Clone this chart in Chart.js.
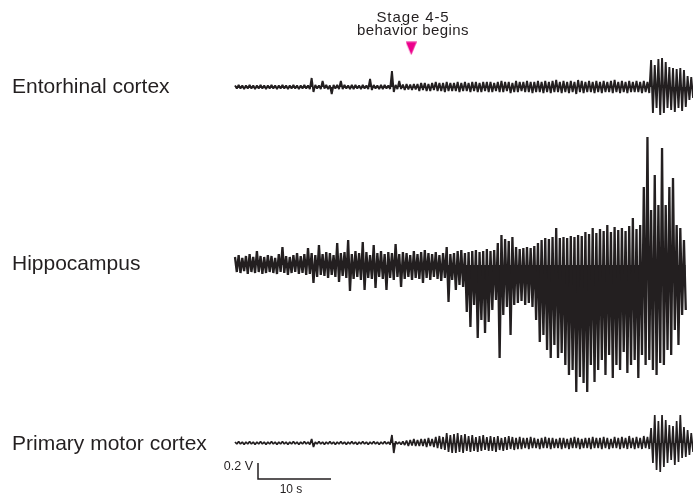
<!DOCTYPE html>
<html>
<head>
<meta charset="utf-8">
<script src="https://cdn.jsdelivr.net/npm/chart.js@4/dist/chart.umd.min.js"></script>
<style>
  html, body { margin: 0; padding: 0; background: #ffffff; }
  #wrap { position: relative; width: 693px; height: 501px; overflow: hidden;
          font-family: "Liberation Sans", Arial, Helvetica, sans-serif; color: #231f20; }
  #c { position: absolute; left: 0; top: 0; width: 693px; height: 501px; }
  .lbl { position: absolute; white-space: nowrap; line-height: 1; }
</style>
</head>
<body>
<div id="wrap">
  <canvas id="c" width="693" height="501"></canvas>
  <div class="lbl" style="left:12px; top:75px; font-size:21px;">Entorhinal cortex</div>
  <div class="lbl" style="left:12px; top:252px; font-size:21px;">Hippocampus</div>
  <div class="lbl" style="left:12px; top:432px; font-size:21px;">Primary motor cortex</div>
  <div class="lbl" style="left:413px; top:9px; font-size:15px; letter-spacing:0.9px; transform:translateX(-50%);">Stage 4-5</div>
  <div class="lbl" style="left:413px; top:21.6px; font-size:15px; letter-spacing:0.4px; transform:translateX(-50%);">behavior begins</div>
  <div class="lbl" style="right:440px; top:459.5px; font-size:12.5px;">0.2 V</div>
  <div class="lbl" style="left:291px; top:482.5px; font-size:12px; transform:translateX(-50%);">10 s</div>
</div>
<script>
// ---------------- DATA ----------------
// Sampling: one positive peak and one negative peak per 0.5 s window
// (peak+ at t, peak- at t + 0.25 s). Values are digitizer counts (1 count = 0.0125 V).
const STEP_S = 0.5;
const V_PER_COUNT = 0.0125;

// Entorhinal cortex
const ecUp = [
  1.5,2,1.5,1.5,2,1.5,1.5,2,1.5,1.5,
  2,1.5,1.5,2,1.5,1.5,2,1.5,1.5,2,
  1.5,9,2,1.5,6,2,1.5,2,2,6,
  2,1.5,2,2,1.5,2,1.5,8,2,1.5,
  2,2,1.5,16,2,6,2.5,3,2.5,3,
  3,4,4,3,4,5,4,4,5,4,
  4,5,4,5,4,5,5,4,5,5,
  5,4,5,6,5,5,4,6,5,5,
  6,5,5,6,5,6,5,6,7,5,
  6,5,6,5,7,6,5,6,5,6,
  5,6,5,6,7,5,6,5,6,5,
  6,5,6,5,27,22,28,29,25,20,
  19,18,19,17,11,10
];
const ecDown = [
  1.5,1.5,2,1.5,1.5,2,1.5,1.5,2,1.5,
  1.5,2,1.5,1.5,2,1.5,1.5,2,1.5,1.5,
  2,5,1.5,2,1.5,2,7,1.5,2,2,
  1.5,2,2,1.5,2,1.5,2,3,1.5,2,
  2,1.5,2,5,2,2,3,2.5,3,2.5,
  4,3,4,4,3,4,4,5,4,4,
  4,5,4,4,5,4,5,5,4,5,
  5,4,5,5,4,6,5,5,4,5,
  5,6,5,5,6,5,6,5,5,6,
  5,6,5,7,5,6,5,5,6,5,
  6,5,5,6,5,6,5,6,5,5,
  5,6,5,6,26,21,28,26,21,23,
  25,21,24,20,13,11
];

// Hippocampus
const hpUp = [
  8,10,7,9,11,8,14,9,8,10,
  9,7,11,18,9,8,10,12,9,11,
  17,12,10,20,11,13,12,10,22,12,
  13,25,11,14,12,23,13,10,20,12,
  14,11,13,12,21,11,13,12,10,14,
  11,13,15,12,11,13,10,12,18,11,
  12,14,15,12,13,14,15,13,14,16,
  14,15,22,30,26,24,28,18,16,17,
  18,17,19,22,25,27,26,28,37,27,
  28,27,29,28,30,29,33,31,37,32,
  36,34,40,33,38,35,37,34,39,47,
  36,40,78,128,55,90,60,117,60,78,
  87,40,37,25
];
const hpDown = [
  7,8,6,9,7,8,7,9,8,7,
  8,9,7,8,10,8,7,9,8,10,
  9,18,12,10,11,13,10,12,17,11,
  13,26,14,12,15,25,13,14,23,12,
  14,25,13,15,12,22,14,12,15,13,
  14,18,13,15,12,14,16,13,37,15,
  25,20,22,47,62,40,73,55,68,57,
  45,35,93,50,42,70,40,38,36,40,
  38,42,55,77,70,85,93,80,93,88,
  100,110,105,127,112,118,127,100,117,105,
  95,110,90,113,100,105,87,108,100,95,
  113,90,100,95,105,110,98,100,85,90,
  65,80,50,45
];

// Primary motor cortex
const pmUp = [
  1,1.5,1,1,1.5,1,1,1.5,1,1,
  1.5,1,1,1.5,1,1,1.5,1,1,1.5,
  1,4,1,1.5,1,1,1.5,1,1,1.5,
  1,1,1.5,1,1,1.5,1,1,1.5,1,
  1,1.5,1,8,1.5,1,1.5,2.5,3,4,
  3,4,4,5,4,6,7,6,10,8,
  9,10,8,9,7,8,6,7,8,6,
  7,6,7,5,6,7,6,5,6,5,
  5,6,5,4,5,6,5,5,4,5,
  5,4,5,6,5,4,5,5,6,5,
  5,6,5,4,6,5,6,5,7,5,
  6,5,7,6,15,28,22,28,23,18,
  17,22,28,16,13,10
];
const pmDown = [
  1,1,1.5,1,1,1.5,1,1,1.5,1,
  1,1.5,1,1,1.5,1,1,1.5,1,1,
  1.5,4,1,1,1.5,1,1,1.5,1,1,
  1.5,1,1,1.5,1,1,1.5,1,1,1.5,
  1,1,1.5,10,1,1.5,2,3,2.5,3,
  3,3,4,3,4,5,6,7,9,10,
  10,9,10,8,9,8,9,8,7,8,
  8,9,7,8,7,6,7,6,6,5,
  6,5,5,6,5,5,6,5,5,6,
  5,6,5,5,6,5,5,6,5,5,
  6,5,6,5,5,6,5,6,5,6,
  5,6,5,6,20,27,29,24,20,17,
  22,19,15,14,12,9
];

// Annotation + scale bar values
const behaviorOnsetS = 24.14;      // "Stage 4-5 behavior begins" (s)
const scaleBarV = 0.2;             // vertical scale bar (V)
const scaleBarS = 10;              // horizontal scale bar (s)

// ---------------- LAYOUT (view window, not data) ----------------
const PX_PER_S = 7.3, PX_PER_V = 80, W = 693, H = 501, T0_PX = 235;
const X_MIN = -T0_PX / PX_PER_S, X_MAX = X_MIN + W / PX_PER_S;
const Y_MAX = 0, Y_MIN = -H / PX_PER_V;
const EC_BASE = -87 / PX_PER_V, HP_BASE = -265 / PX_PER_V, PM_BASE = -443 / PX_PER_V;
const BAR_T = (258 - T0_PX) / PX_PER_S, BAR_Y = -479 / PX_PER_V;
const MARK_Y = -48.3 / PX_PER_V;
const INK = '#231f20';

function trace(up, down, base) {
  const pts = [];
  for (let i = 0; i < up.length; i++) {
    pts.push({ x: i * STEP_S, y: base + up[i] * V_PER_COUNT });
    pts.push({ x: i * STEP_S + STEP_S / 2, y: base - down[i] * V_PER_COUNT });
  }
  return pts;
}

function traceDataset(label, up, down, base, lw) {
  return {
    label, data: trace(up, down, base),
    borderColor: INK, backgroundColor: INK, borderWidth: lw,
    borderJoinStyle: 'bevel',
    fill: { value: base }, pointRadius: 0, tension: 0
  };
}

// pink down-pointing marker
const tri = document.createElement('canvas');
tri.width = 11; tri.height = 14;
(function () {
  const g = tri.getContext('2d');
  g.fillStyle = '#ec008c';
  g.beginPath(); g.moveTo(0, 0.5); g.lineTo(11, 0.5); g.lineTo(5.5, 13.8); g.closePath(); g.fill();
})();

new Chart(document.getElementById('c'), {
  type: 'line',
  data: {
    datasets: [
      traceDataset('Entorhinal cortex', ecUp, ecDown, EC_BASE, 1.9),
      traceDataset('Hippocampus', hpUp, hpDown, HP_BASE, 2.3),
      traceDataset('Primary motor cortex', pmUp, pmDown, PM_BASE, 1.7),
      {
        label: 'scale bar',
        data: [
          { x: BAR_T, y: BAR_Y + scaleBarV },
          { x: BAR_T, y: BAR_Y },
          { x: BAR_T + scaleBarS, y: BAR_Y }
        ],
        borderColor: INK, borderWidth: 1.5, fill: false, pointRadius: 0,
        tension: 0, borderJoinStyle: 'miter', borderCapStyle: 'butt'
      },
      {
        label: 'onset',
        data: [{ x: behaviorOnsetS, y: MARK_Y }],
        showLine: false, pointStyle: tri, pointRadius: 6, fill: false
      }
    ]
  },
  options: {
    responsive: false, animation: false, events: [],
    layout: { padding: 0, autoPadding: false },
    plugins: { legend: { display: false }, tooltip: { enabled: false } },
    scales: {
      x: { type: 'linear', min: X_MIN, max: X_MAX, display: false },
      y: { type: 'linear', min: Y_MIN, max: Y_MAX, display: false }
    }
  }
});
</script>
</body>
</html>
